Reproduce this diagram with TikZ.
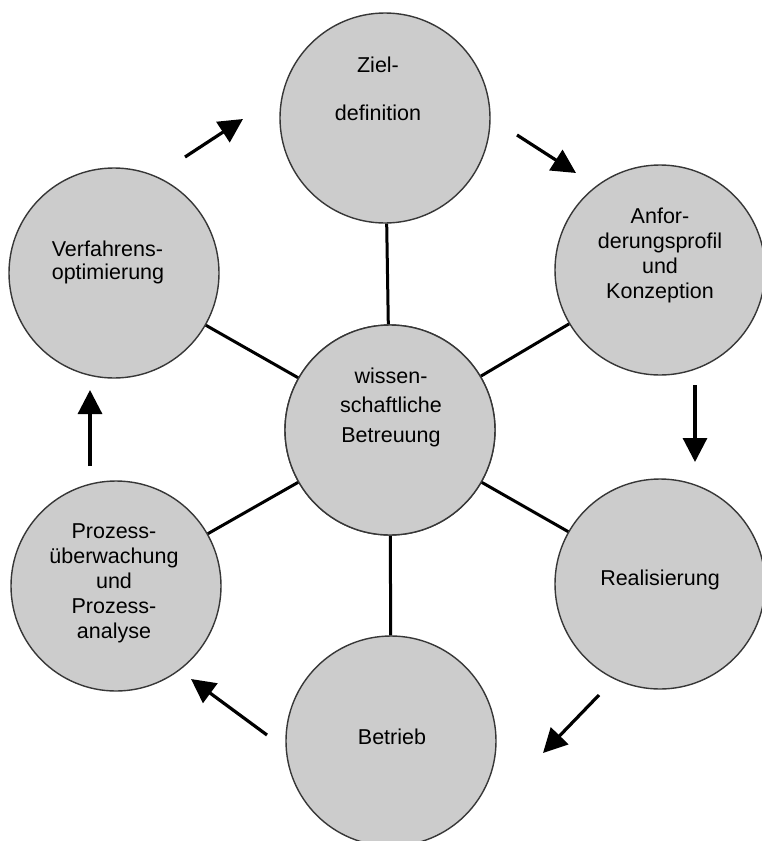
\documentclass[tikz,border=0pt]{standalone}
\usepackage{fontspec}
\setmainfont{Liberation Sans}
\usetikzlibrary{arrows.meta}
\definecolor{cfill}{RGB}{204,204,204}
\definecolor{cedge}{RGB}{55,55,55}
\tikzset{
  ball/.style={circle, draw=cedge, line width=1.4pt, fill=cfill, minimum size=210pt, inner sep=0pt},
  spoke/.style={line width=3pt, black},
  flow/.style={line width=3.2pt, black, -{Triangle[length=24pt,width=24pt]}},
  lbl/.style={align=center, inner sep=0pt, font=\fontsize{21.5}{25}\selectfont}
}
\begin{document}
\begin{tikzpicture}[x=1pt,y=-1pt]
\useasboundingbox (0,0) rectangle (761,841);
\fill[white] (0,0) rectangle (761,841);
% circles
\node[ball] (ctr) at (390,430) {};
\node[ball] (ziel) at (385,118) {};
\node[ball] (anf) at (660,270) {};
\node[ball] (real) at (660,584) {};
\node[ball] (betr) at (391,741) {};
\node[ball] (proz) at (116,586) {};
\node[ball] (verf) at (114,273) {};
% spokes
\foreach \n in {ziel,anf,real,betr,proz,verf} \draw[spoke] (ctr) -- (\n);
% redraw center above spokes
\node[ball] at (390,430) {};
% labels
\node[lbl, font=\fontsize{21.5}{48}\selectfont] (tziel) at (378,89) {Ziel-\\definition};
\node[lbl] (tanf) at (660,255) {Anfor-\\derungsprofil\\und\\Konzeption};
\node[lbl, align=left, font=\fontsize{21.5}{23}\selectfont] (tverf) at (108,262) {Verfahrens-\\optimierung};
\node[lbl, font=\fontsize{21.5}{29.5}\selectfont] (tctr) at (391,407) {wissen-\\schaftliche\\Betreuung};
\node[lbl] (tproz) at (114,583) {Prozess-\\überwachung\\und\\Prozess-\\analyse};
\node[lbl] (treal) at (660,580) {Realisierung};
\node[lbl] (tbetr) at (392,737) {Betrieb};
% flow arrows
\coordinate (a1s) at (185,157); \coordinate (a1e) at (243,119);
\coordinate (a2s) at (517,135); \coordinate (a2e) at (576,173);
\coordinate (a3s) at (695,385); \coordinate (a3e) at (695,462);
\coordinate (a4s) at (599,695); \coordinate (a4e) at (543,753);
\coordinate (a5s) at (267,735); \coordinate (a5e) at (191,679);
\coordinate (a6s) at (90,466);  \coordinate (a6e) at (90,390);
\draw[flow] (a1s) -- (a1e);
\draw[flow] (a2s) -- (a2e);
\draw[flow] (a3s) -- (a3e);
\draw[flow] (a4s) -- (a4e);
\draw[flow] (a5s) -- (a5e);
\draw[flow] (a6s) -- (a6e);
\end{tikzpicture}
\end{document}
